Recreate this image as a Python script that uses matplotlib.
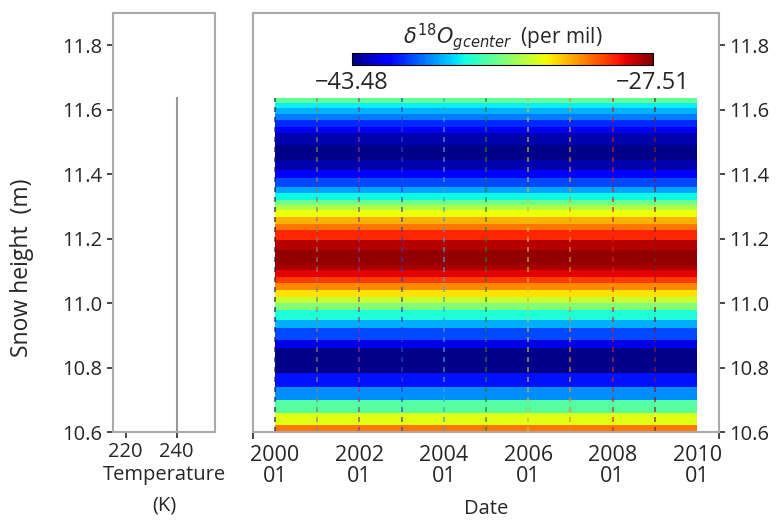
import numpy as np
import matplotlib
matplotlib.use("Agg")
import matplotlib.pyplot as plt

plt.rcParams["font.family"] = ["Open Sans", "DejaVu Sans"]
plt.rcParams["text.color"] = "#262626"
plt.rcParams["axes.labelcolor"] = "#262626"
plt.rcParams["xtick.color"] = "#262626"
plt.rcParams["ytick.color"] = "#262626"
plt.rcParams["mathtext.fontset"] = "dejavusans"

# Layer edges of the snow column (m), bottom to top
layer_edges = [10.600, 10.622, 10.659, 10.699, 10.740, 10.783, 10.860, 10.885,
               10.922, 10.947, 10.978, 11.000, 11.019, 11.040, 11.062, 11.081,
               11.102, 11.118, 11.164, 11.195, 11.226, 11.245, 11.267, 11.288,
               11.304, 11.319, 11.341, 11.360, 11.388, 11.412, 11.443, 11.490,
               11.527, 11.546, 11.567, 11.586, 11.605, 11.620, 11.636]
# d18O of each layer (per mil), bottom to top
d18o_profile = [-31.0, -33.5, -36.2, -39.3, -41.2, -43.3, -42.0, -40.3,
                -38.8, -37.3, -35.4, -34.0, -32.8, -31.3, -30.0, -28.9,
                -28.1, -27.8, -28.3, -29.6, -31.0, -32.0, -33.3, -34.5,
                -35.8, -37.6, -38.9, -40.3, -41.5, -42.8, -43.3, -42.8,
                -41.8, -40.8, -39.5, -38.7, -37.7, -36.0]
# yearly time edges
years = [2000, 2001, 2002, 2003, 2004, 2005, 2006, 2007, 2008, 2009, 2010]
line_years = years[:-1]
line_colors = ["#202040", "#8a7f70", "#8a3a8a", "#3040c0", "#40a0d0",
               "#208030", "#c8c040", "#e09020", "#d02020", "#802020"]
temperature = [240, 240]
temp_heights = [10.600, 11.636]
vmin, vmax = -43.48, -27.51
tick_years = [2000, 2002, 2004, 2006, 2008, 2010]
tick_labels = ["2000\n01", "2002\n01", "2004\n01", "2006\n01", "2008\n01", "2010\n01"]
yticks = [10.6, 10.8, 11.0, 11.2, 11.4, 11.6, 11.8]

fig = plt.figure(figsize=(7.78, 5.21), dpi=100)
ax_t = fig.add_axes([0.1452, 0.1708, 0.1311, 0.8042])
ax = fig.add_axes([0.3252, 0.1708, 0.5990, 0.8042])
cax = fig.add_axes([0.4524, 0.8752, 0.3869, 0.023])

spine_col = "#aaaaaa"
for a in (ax_t, ax):
    for s in a.spines.values():
        s.set_color(spine_col)
        s.set_linewidth(1.5)
    a.set_ylim(10.6, 11.9)
    a.set_yticks(yticks)
    a.set_yticklabels([f"{v:.1f}" for v in yticks])
    a.tick_params(labelsize=14.5, width=1.2, length=4)

# Temperature panel
ax_t.plot(temperature, temp_heights, color="#999999", lw=1.5)
ax_t.set_xlim(215, 255)
ax_t.set_xticks([220, 240])
ax_t.set_xlabel("Temperature\n(K)", fontsize=14.5, linespacing=1.7, labelpad=2)
fig.text(22 / 778, 1 - 268 / 521, "Snow height  (m)", rotation=90,
         ha="center", va="center", fontsize=16.5)

# d18O panel
values = np.tile(np.array(d18o_profile)[:, None], (1, len(years) - 1))
mesh = ax.pcolormesh(years, layer_edges, values, cmap="jet", vmin=vmin, vmax=vmax,
                     shading="flat")
for yr, c in zip(line_years, line_colors):
    ax.plot([yr, yr], [layer_edges[0], layer_edges[-1]], color=c, lw=1.2,
            ls=(0, (3, 3)), alpha=0.75)
ax.set_xlim(1999.48, 2010.52)
ax.set_xticks(tick_years)
ax.set_xticklabels(tick_labels, fontsize=15.5, linespacing=1.0)
ax.tick_params(axis="x", length=0, pad=9)
ax.set_xticks([1999.48, 2010.52], minor=True)
ax.tick_params(axis="x", which="minor", length=5, width=1.2)
ax.yaxis.tick_right()
ax.set_xlabel("Date", fontsize=14.5, labelpad=9)

cb = fig.colorbar(mesh, cax=cax, orientation="horizontal")
cb.set_ticks([vmin, vmax])
cb.set_ticklabels(["\u221243.48", "\u221227.51"])
cax.tick_params(length=0, labelsize=17, pad=4)
cb.outline.set_linewidth(0.8)
cax.set_title(r"$\delta^{18}O_{gcenter}$  (per mil)", fontsize=15, pad=4)

fig.savefig("out.png", dpi=100)
